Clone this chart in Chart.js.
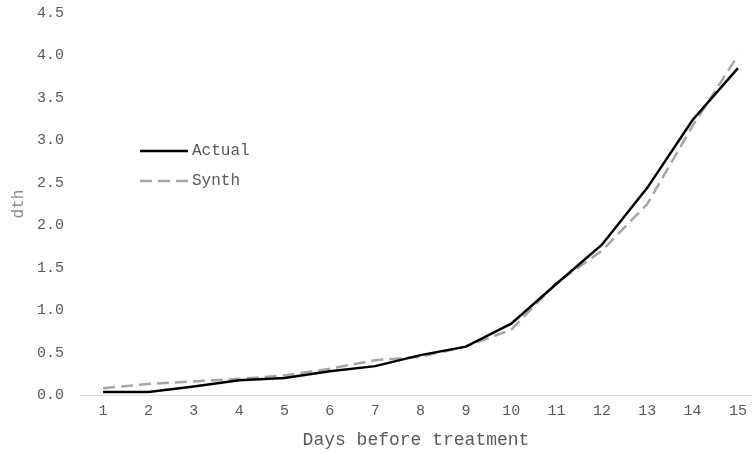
<!DOCTYPE html>
<html>
<head>
<meta charset="utf-8">
<script src="https://cdn.jsdelivr.net/npm/chart.js@4"></script>
<style>
  html, body { margin: 0; padding: 0; background: #fff; overflow: hidden; }
  #wrap { width: 752px; height: 454px; }
</style>
</head>
<body>
<div id="wrap"><canvas id="dthChart" width="752" height="454"></canvas></div>
<script>
const days = [1, 2, 3, 4, 5, 6, 7, 8, 9, 10, 11, 12, 13, 14, 15];
const actual = [0.035, 0.035, 0.10, 0.175, 0.20, 0.28, 0.34, 0.47, 0.57, 0.84, 1.31, 1.77, 2.44, 3.24, 3.85];
const synth = [0.08, 0.13, 0.16, 0.19, 0.23, 0.31, 0.41, 0.45, 0.57, 0.77, 1.32, 1.70, 2.25, 3.17, 4.0];

const FONT = "'Liberation Mono', 'Courier New', monospace";
const TEXT = "#595959";

const toPoints = (vals) => vals.map((v, i) => ({ x: days[i], y: v }));

// legend drawn inside the plot, left side
const innerLegend = {
  id: "innerLegend",
  afterDraw(chart) {
    const ctx = chart.ctx;
    const x0 = 140, x1 = 188;
    const rows = [151, 181];
    ctx.save();
    chart.data.datasets.forEach((ds, i) => {
      const y = rows[i];
      ctx.beginPath();
      ctx.strokeStyle = ds.borderColor;
      ctx.lineWidth = ds.borderWidth;
      ctx.setLineDash(ds.borderDash || []);
      ctx.moveTo(x0, y);
      ctx.lineTo(x1, y);
      ctx.stroke();
      ctx.setLineDash([]);
      ctx.fillStyle = TEXT;
      ctx.font = "16px " + FONT;
      ctx.textBaseline = "middle";
      ctx.fillText(ds.label, x1 + 4, y);
    });
    ctx.restore();
  }
};

new Chart(document.getElementById("dthChart"), {
  type: "line",
  data: {
    datasets: [
      {
        label: "Actual",
        data: toPoints(actual),
        borderColor: "#000000",
        borderWidth: 2.5,
        pointRadius: 0,
        tension: 0,
        fill: false,
      },
      {
        label: "Synth",
        data: toPoints(synth),
        borderColor: "#a6a6a6",
        borderWidth: 2.5,
        borderDash: [12, 6],
        pointRadius: 0,
        tension: 0,
        fill: false,
      },
    ],
  },
  options: {
    responsive: false,
    animation: false,
    layout: { padding: { top: 13, right: 0, bottom: 0, left: 0 } },
    plugins: {
      legend: { display: false },
      tooltip: { enabled: false },
    },
    scales: {
      x: {
        type: "linear",
        min: 0.49,
        max: 15.31,
        grid: { display: false, drawTicks: false },
        border: { display: true, color: "#d9d9d9", width: 1 },
        ticks: { color: TEXT, font: { family: FONT, size: 15 }, padding: 7, maxRotation: 0 },
        afterBuildTicks(scale) { scale.ticks = days.map((d) => ({ value: d })); },
        title: {
          display: true,
          text: "Days before treatment",
          color: TEXT,
          font: { family: FONT, size: 18 },
          padding: { top: 0, bottom: 3 },
        },
        afterFit(scale) {
          scale.height = 59;
          scale.paddingLeft = 0;
          scale.paddingRight = 0;
        },
      },
      y: {
        min: 0,
        max: 4.5,
        grid: { display: false, drawTicks: false },
        border: { display: false },
        ticks: {
          stepSize: 0.5,
          color: TEXT,
          font: { family: FONT, size: 15 },
          padding: 16,
          callback: (v) => v.toFixed(1),
        },
        title: {
          display: true,
          text: "dth",
          color: "#8c8c8c",
          font: { family: FONT, size: 16 },
          padding: { top: 9, bottom: 0 },
        },
        afterFit(scale) {
          scale.width = 80;
          scale.paddingTop = 0;
          scale.paddingBottom = 0;
        },
      },
    },
  },
  plugins: [innerLegend],
});
</script>
</body>
</html>
